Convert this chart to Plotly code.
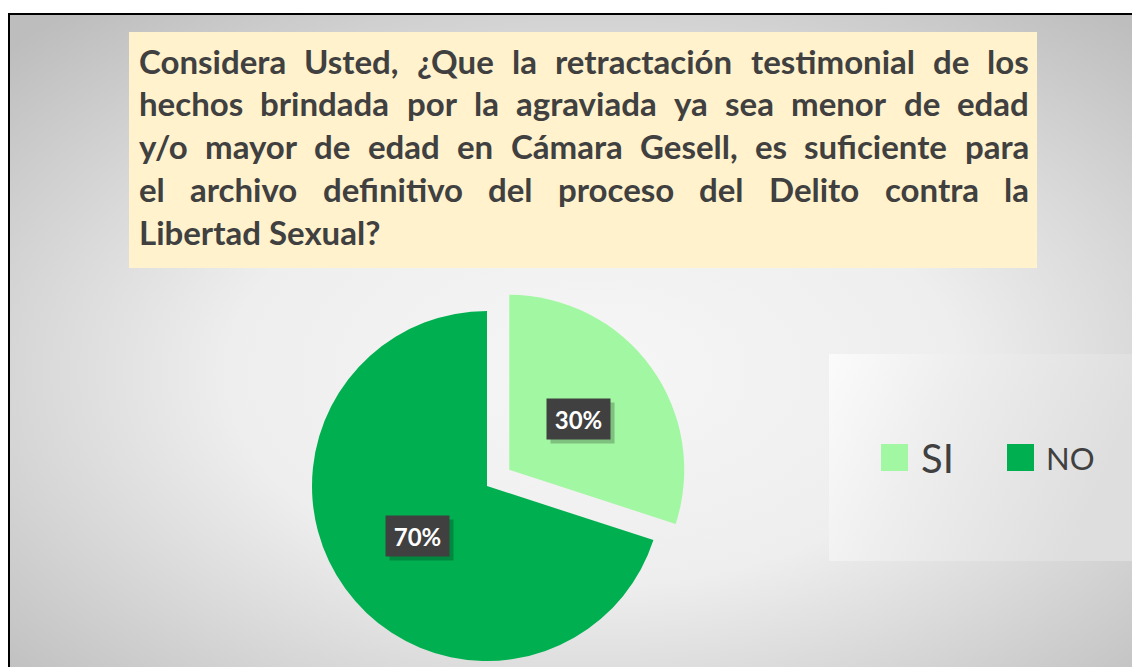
import base64
import math
import subprocess
import plotly.graph_objects as go

# ---------------- data ----------------
LABELS = ["SI", "NO"]
VALUES = [30, 70]
PCT_TEXT = ["30%", "70%"]
COLORS = ["#A2F7A2", "#00B050"]
PULL = [0.157, 0.0]
TITLE_LINES = [
    "Considera Usted, ¿Que la retractación testimonial de los",
    "hechos brindada por la agraviada ya sea menor de edad",
    "y/o mayor de edad en Cámara Gesell, es suficiente para",
    "el archivo definitivo del proceso del Delito contra la",
    "Libertad Sexual?",
]

WIN_W, WIN_H = 1132, 667
W, H = WIN_W, WIN_H
TXT = "#404040"


def px(x):
    return x / W


def py(y):
    return 1 - y / H


# ------------- text measurement (for justified title) -------------
TITLE_SIZE = 33
APPROX = {c: 0.55 for c in "abcdeghknopqsuvxyzáó"}
APPROX.update({"i": 0.26, "l": 0.26, "j": 0.26, "f": 0.34, "t": 0.37, "r": 0.38,
               "m": 0.85, "w": 0.78, " ": 0.23, ",": 0.23, "?": 0.42, "¿": 0.42,
               "/": 0.36, "C": 0.66, "U": 0.7, "Q": 0.78, "L": 0.5, "S": 0.5,
               "D": 0.74, "G": 0.72, "s": 0.44, "c": 0.47, "e": 0.53, "a": 0.51})


def make_measurer(size):
    try:
        from PIL import ImageFont
        path = subprocess.run(["fc-match", "-f", "%{file}", "Lato:style=Bold"],
                              capture_output=True, text=True).stdout.strip()
        f = ImageFont.truetype(path, size)
        return lambda s: f.getlength(s)
    except Exception:
        return lambda s: sum(APPROX.get(c, 0.55) for c in s) * size


measure = make_measurer(TITLE_SIZE)

fig = go.Figure()

# ------------- pie (two traces so the pulled slice can sit in frame) -------------
R = 175.0
CX, CY = 487.0, 486.0
total = float(sum(VALUES))
cum = 0.0
mids = []
for v in VALUES:
    mids.append(2 * math.pi * (cum + v / 2) / total)
    cum += v

for k in range(len(VALUES)):
    off = PULL[k] * R
    cx = CX + off * math.sin(mids[k])
    cy = CY - off * math.cos(mids[k])
    cols = [COLORS[j] if j == k else "rgba(0,0,0,0)" for j in range(len(VALUES))]
    fig.add_trace(go.Pie(
        labels=LABELS, values=VALUES, sort=False, direction="clockwise",
        rotation=0, marker=dict(colors=cols, line=dict(width=0)),
        textinfo="none", hoverinfo="label+percent", showlegend=False,
        domain=dict(x=[px(cx - R), px(cx + R)], y=[py(cy + R), py(cy - R)]),
    ))
    # data label box
    lx = cx + 0.49 * R * math.sin(mids[k])
    ly = cy - 0.49 * R * math.cos(mids[k])
    fig.add_annotation(x=px(lx), y=py(ly), xref="paper", yref="paper",
                       text=" ", showarrow=False, xanchor="center", yanchor="middle",
                       width=63, height=40, borderpad=0, bgcolor="rgba(0,0,0,0.22)",
                       xshift=4, yshift=-4)
    fig.add_annotation(x=px(lx), y=py(ly), xref="paper", yref="paper",
                       text=PCT_TEXT[k], showarrow=False, xanchor="center", yanchor="middle",
                       width=63, height=40, borderpad=0, bgcolor="#404040",
                       font=dict(family="Lato", size=24, color="white", weight="bold"))

# ------------- background gradient -------------
BG_X0, BG_Y0 = 8, 13
bw, bh = WIN_W - BG_X0, WIN_H - BG_Y0
svg = (f'<svg xmlns="http://www.w3.org/2000/svg" width="{bw}" height="{bh}" '
       f'viewBox="0 0 {bw} {bh}" preserveAspectRatio="none"><defs>'
       '<radialGradient id="g" cx="52%" cy="55%" r="72%">'
       '<stop offset="0" stop-color="#f6f6f6"/><stop offset="0.45" stop-color="#eeeeee"/>'
       '<stop offset="1" stop-color="#bdbdbd"/></radialGradient></defs>'
       f'<rect width="{bw}" height="{bh}" fill="url(#g)"/></svg>')
src = "data:image/svg+xml;base64," + base64.b64encode(svg.encode()).decode()

LG_X0, LG_Y0, LG_X1, LG_Y1 = 829, 354, WIN_W, 561
lw, lh = LG_X1 - LG_X0, LG_Y1 - LG_Y0
svg2 = (f'<svg xmlns="http://www.w3.org/2000/svg" width="{lw}" height="{lh}" '
        f'viewBox="0 0 {lw} {lh}" preserveAspectRatio="none"><defs>'
        '<linearGradient id="l" x1="0" y1="0" x2="1" y2="0.3">'
        '<stop offset="0" stop-color="#fbfbfb"/><stop offset="0.4" stop-color="#eeeeee"/>'
        '<stop offset="1" stop-color="#dedede"/></linearGradient></defs>'
        f'<rect width="{lw}" height="{lh}" fill="url(#l)"/></svg>')
src2 = "data:image/svg+xml;base64," + base64.b64encode(svg2.encode()).decode()

fig.update_layout(images=[
    dict(source=src, xref="paper", yref="paper", x=px(BG_X0), y=py(BG_Y0),
         sizex=bw / W, sizey=bh / H, sizing="stretch", layer="below",
         xanchor="left", yanchor="top"),
    dict(source=src2, xref="paper", yref="paper", x=px(LG_X0), y=py(LG_Y0),
         sizex=lw / W, sizey=lh / H, sizing="stretch", layer="below",
         xanchor="left", yanchor="top"),
])

# ------------- frame and title box -------------
fig.add_shape(type="rect", xref="paper", yref="paper", layer="above",
              x0=px(BG_X0 + 1), x1=px(WIN_W + 30), y0=py(WIN_H + 30), y1=py(BG_Y0 + 1),
              line=dict(color="black", width=2), fillcolor="rgba(0,0,0,0)")
fig.add_shape(type="rect", xref="paper", yref="paper", layer="above",
              x0=px(129), x1=px(1037), y0=py(268), y1=py(32),
              line=dict(width=0), fillcolor="#FFF2CC")

TX0, TX1 = 138, 1028
LINE_Y = [60.5, 103.3, 146.0, 188.8, 231.5]
for i, line in enumerate(TITLE_LINES):
    words = line.split(" ")
    last = i == len(TITLE_LINES) - 1
    if last or len(words) == 1:
        fig.add_annotation(x=px(TX0), y=py(LINE_Y[i]), xref="paper", yref="paper",
                           text=line, showarrow=False, xanchor="left", yanchor="middle",
                           borderpad=0, font=dict(family="Lato", size=TITLE_SIZE,
                                                  color=TXT, weight="bold"))
        continue
    widths = [measure(wd) for wd in words]
    gap = (TX1 - TX0 - sum(widths)) / (len(words) - 1)
    xpos = TX0
    for wd, wdt in zip(words, widths):
        fig.add_annotation(x=px(xpos), y=py(LINE_Y[i]), xref="paper", yref="paper",
                           text=wd, showarrow=False, xanchor="left", yanchor="middle",
                           borderpad=0, font=dict(family="Lato", size=TITLE_SIZE,
                                                  color=TXT, weight="bold"))
        xpos += wdt + gap

# ------------- legend -------------
LEG_SQ = [(881, 444), (1007, 444)]
LEG_TX = [(920, 40), (1045, 31)]
for k in range(len(LABELS)):
    sx, sy = LEG_SQ[k]
    fig.add_shape(type="rect", xref="paper", yref="paper", layer="above",
                  x0=px(sx), x1=px(sx + 27), y0=py(sy + 27), y1=py(sy),
                  line=dict(width=0), fillcolor=COLORS[k])
    tx, ts = LEG_TX[k]
    fig.add_annotation(x=px(tx), y=py(sy + 13.5), xref="paper", yref="paper",
                       text=LABELS[k], showarrow=False, xanchor="left", yanchor="middle",
                       borderpad=0, font=dict(family="Lato", size=ts, color=TXT))

fig.update_layout(width=W, height=H, autosize=False, margin=dict(l=0, r=0, t=0, b=0),
                  paper_bgcolor="white", plot_bgcolor="white")

fig.write_html("out.html", config={"displayModeBar": False},
               post_script="document.body.style.margin='0';"
                           "document.documentElement.style.overflow='hidden';")
